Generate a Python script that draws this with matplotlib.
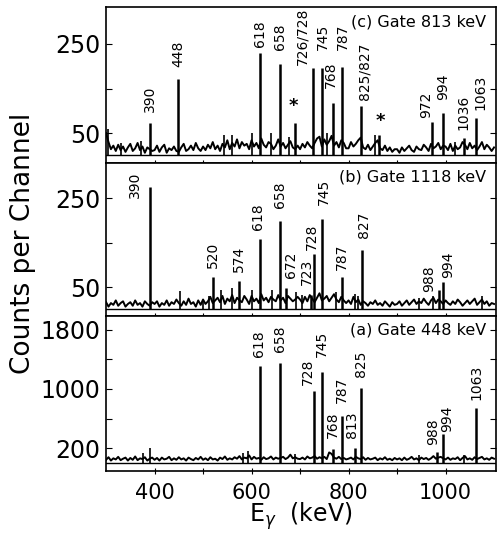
import numpy as np
import matplotlib.pyplot as plt

# energy grid for the background traces (keV)
energy = np.arange(300, 1101, 5)

# ---- panel (c) gate 813 keV ----
bg_c = [50, 30, 14, 22, 10, 24, 12, 20, 8, 18, 26, 10, 16, 28, 12, 20, 6, 18, 14, 10,
        12, 22, 8, 18, 24, 6, 16, 12, 20, 10, 8, 18, 26, 10, 14, 22, 12, 28, 16, 10,
        20, 12, 24, 16, 30, 14, 22, 10, 26, 18, 34, 14, 28, 20, 36, 16, 30, 22, 26, 14,
        34, 20, 28, 16, 38, 24, 18, 30, 26, 14, 22, 36, 20, 28, 16, 24, 32, 18, 14, 22,
        14, 26, 18, 30, 22, 16, 28, 38, 42, 20, 36, 24, 32, 44, 22, 30, 18, 34, 28, 16,
        16, 30, 20, 26, 34, 40, 18, 14, 24, 12, 20, 28, 34, 16, 12, 22, 10, 18, 8, 14,
        14, 6, 18, 10, 16, 22, 12, 8, 20, 14, 12, 24, 18, 10, 26, 16, 20, 28, 14, 22,
        20, 12, 26, 10, 22, 14, 18, 30, 24, 14, 28, 16, 22, 12, 20, 30, 14, 24, 18, 10,
        18]
peak_c_E = [390, 448, 618, 658, 690, 727, 745, 768, 787, 826, 863, 972, 994, 1038, 1063]
peak_c_h = [72, 171, 230, 205, 72, 196, 196, 117, 198, 111, 45, 75, 95, 39, 84]
minor_c_E = [303, 330, 372, 544, 560, 600, 640, 678, 756, 855, 1020]
minor_c_h = [60, 27, 32, 45, 45, 50, 50, 42, 50, 45, 30]
lab_c = ['390', '448', '618', '658', '726/728', '745', '768', '787', '825/827',
         '972', '994', '1036', '1063']
lab_c_x = [390, 448, 618, 658, 705, 747, 764, 788, 832, 960, 994, 1037, 1071]
lab_c_y = [97, 198, 243, 236, 203, 236, 151, 236, 124, 84, 124, 57, 102]
star_c_x = [686, 865]
star_c_y = [111, 77]

# ---- panel (b) gate 1118 keV ----
bg_b = [16, 6, 14, 10, 20, 8, 14, 18, 6, 12, 16, 8, 20, 10, 14, 6, 18, 12, 8, 16,
        12, 18, 6, 14, 10, 20, 8, 16, 12, 22, 14, 8, 18, 10, 24, 12, 16, 6, 20, 10,
        22, 12, 18, 28, 14, 20, 26, 16, 30, 12, 24, 18, 32, 14, 26, 20, 16, 30, 22, 12,
        30, 18, 24, 14, 34, 20, 26, 16, 28, 22, 18, 32, 20, 26, 14, 30, 24, 18, 22, 28,
        22, 14, 28, 18, 32, 24, 16, 26, 36, 20, 24, 30, 18, 26, 34, 22, 16, 28, 20, 14,
        20, 12, 28, 16, 22, 10, 18, 14, 8, 16, 12, 20, 10, 14, 8, 18, 12, 6, 16, 10,
        12, 18, 8, 14, 20, 10, 16, 22, 12, 18, 14, 24, 16, 10, 20, 26, 14, 22, 18, 12,
        20, 14, 10, 18, 12, 22, 16, 8, 14, 20, 12, 18, 24, 10, 16, 22, 12, 18, 8, 14,
        12]
peak_b_E = [390, 520, 574, 618, 658, 672, 723, 728, 745, 787, 827, 986, 994]
peak_b_h = [275, 72, 63, 158, 198, 48, 32, 124, 203, 72, 133, 43, 61]
minor_b_E = [452, 500, 513, 536, 559, 600, 643, 692, 704, 774, 813, 820, 945, 975, 1075]
minor_b_h = [41, 22, 30, 43, 48, 43, 43, 40, 32, 40, 35, 30, 25, 30, 30]
lab_b = ['390', '520', '574', '618', '658', '672', '723', '728', '745', '787',
         '827', '988', '994']
lab_b_x = [360, 520, 574, 614, 658, 682, 715, 725, 750, 787, 832, 967, 1006]
lab_b_y = [250, 93, 84, 178, 228, 70, 54, 133, 234, 88, 160, 39, 70]

# ---- panel (a) gate 448 keV ----
bg_a = [40, 75, 30, 60, 45, 80, 35, 55, 70, 30, 65, 40, 85, 35, 60, 50, 75, 30, 55, 70,
        40, 65, 30, 70, 45, 55, 80, 35, 60, 40, 75, 45, 60, 30, 70, 50, 35, 65, 45, 80,
        40, 60, 35, 75, 45, 55, 30, 70, 50, 85, 40, 60, 45, 75, 55, 90, 45, 70, 60, 100,
        45, 80, 55, 65, 40, 75, 50, 60, 85, 45, 70, 55, 65, 80, 50, 70, 110, 60, 75, 55,
        50, 70, 45, 85, 60, 70, 90, 55, 75, 60, 80, 50, 140, 120, 70, 55, 80, 50, 65, 45,
        55, 70, 45, 80, 60, 50, 75, 40, 65, 45, 55, 70, 35, 60, 45, 75, 40, 55, 35, 65,
        45, 60, 35, 70, 40, 55, 80, 45, 60, 35, 70, 50, 65, 40, 60, 90, 55, 70, 80, 60,
        45, 70, 40, 60, 50, 75, 35, 65, 90, 45, 60, 40, 75, 50, 65, 80, 45, 60, 40, 70,
        55]
peak_a_E = [618, 658, 728, 745, 768, 787, 813, 825, 982, 994, 1063]
peak_a_h = [1312, 1353, 973, 1230, 180, 634, 200, 1013, 146, 390, 742]
minor_a_E = [376, 390, 582, 593, 689, 946, 1038]
minor_a_h = [130, 200, 130, 160, 120, 105, 105]
lab_a = ['618', '658', '728', '745', '768', '787', '813', '825', '988', '994', '1063']
lab_a_x = [616, 658, 716, 746, 768, 787, 808, 825, 975, 1003, 1063]
lab_a_y = [1434, 1502, 1054, 1434, 335, 810, 335, 1163, 240, 417, 851]

fig = plt.figure(figsize=(4.98, 5.5), dpi=100)
left, width = 0.213, 0.782
ax_c = fig.add_axes([left, 0.7036, width, 0.2837])
ax_b = fig.add_axes([left, 0.4255, width, 0.2781])
ax_a = fig.add_axes([left, 0.1436, width, 0.2819])

panels = [
    (ax_c, bg_c, peak_c_E, peak_c_h, minor_c_E, minor_c_h, lab_c, lab_c_x, lab_c_y,
     (-17, 333), [50, 150, 250], ['50', '', '250'], '(c) Gate 813 keV'),
    (ax_b, bg_b, peak_b_E, peak_b_h, minor_b_E, minor_b_h, lab_b, lab_b_x, lab_b_y,
     (-15, 329), [50, 150, 250], ['50', '', '250'], '(b) Gate 1118 keV'),
    (ax_a, bg_a, peak_a_E, peak_a_h, minor_a_E, minor_a_h, lab_a, lab_a_x, lab_a_y,
     (-112, 1990), [200, 600, 1000, 1400, 1800], ['200', '', '1000', '', '1800'],
     '(a) Gate 448 keV'),
]

for ax, bg, pE, ph, mE, mh, labs, lx, ly, ylim, yt, ytl, title in panels:
    ax.plot(energy, bg, color='black', lw=1.4)
    ax.vlines(pE, 0, ph, color='black', lw=1.8)
    ax.vlines(mE, 0, mh, color='black', lw=1.2)
    ax.axhline(0, color='black', lw=1.0)
    for t, x, y in zip(labs, lx, ly):
        ax.text(x, y, t, rotation=90, ha='center', va='bottom', fontsize=10)
    ax.set_xlim(300, 1103)
    ax.set_ylim(*ylim)
    ax.set_yticks(yt)
    ax.set_yticklabels(ytl)
    ax.set_xticks(range(400, 1001, 100))
    ax.set_xticklabels(['400', '', '600', '', '800', '', '1000'])
    ax.tick_params(axis='y', direction='in', left=True, right=True, length=4,
                   labelsize=17, pad=4)
    ax.tick_params(axis='x', direction='inout', length=5, labelsize=15, pad=6)
    for s in ax.spines.values():
        s.set_linewidth(1.2)
    ax.text(0.977, 0.955, title, transform=ax.transAxes, ha='right', va='top',
            fontsize=11.5)

for ax in (ax_c, ax_b):
    ax.tick_params(axis='x', labelbottom=False)

for x, y in zip(star_c_x, star_c_y):
    ax_c.text(x, y, '*', ha='center', va='center', fontsize=13, fontweight='bold')

fig.text(0.046, 0.558, 'Counts per Channel', rotation=90, ha='center',
         va='center', fontsize=19)
fig.text(0.604, 0.062, r'$\mathrm{E}_\gamma$  (keV)', ha='center', va='center',
         fontsize=17)

fig.savefig('out.png', dpi=100)
